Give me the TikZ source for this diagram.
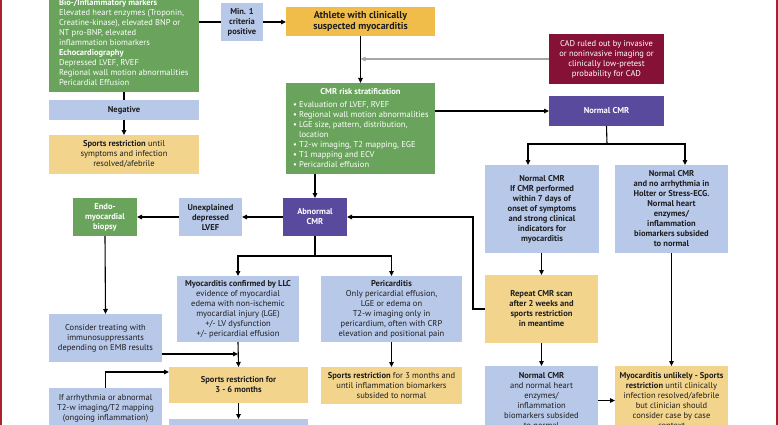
\documentclass[tikz,border=0pt]{standalone}
\usepackage{fontspec}
\setmainfont{PT Sans}
\usetikzlibrary{arrows.meta}
\definecolor{cgreen}{RGB}{106,164,92}
\definecolor{cblue}{RGB}{183,200,233}
\definecolor{corange}{RGB}{242,212,140}
\definecolor{cathl}{RGB}{240,188,74}
\definecolor{cpurple}{RGB}{89,74,158}
\definecolor{cmaroon}{RGB}{134,17,54}
\definecolor{cred}{RGB}{172,32,48}
\definecolor{ctext}{RGB}{30,30,30}
\newcommand\bx[7]{\node[#6, minimum width={#4pt-#2pt}, minimum height={#5pt-#3pt}] (#1) at ({(#2+#4)/2},{(#3+#5)/2}) {#7};}
\begin{document}
\begin{tikzpicture}[x=1pt,y=-1pt,
 base/.style={inner sep=0pt, outer sep=0pt, align=center, font=\fontsize{8.5}{10}\selectfont},
 gbox/.style={base, fill=cgreen, text=white},
 bbox/.style={base, fill=cblue, text=ctext},
 obox/.style={base, fill=corange, text=ctext},
 abox/.style={base, fill=cathl, text=ctext, font=\fontsize{10}{11}\selectfont\bfseries},
 pbox/.style={base, fill=cpurple, text=white, font=\fontsize{8.5}{10}\selectfont\bfseries},
 mbox/.style={base, fill=cmaroon, text=white},
 plain/.style={inner sep=0pt, outer sep=0pt, font=\fontsize{8.5}{10}\selectfont},
 arr/.style={line width=1.1pt, -{Triangle[length=5pt,width=4.5pt]}},
 grayarr/.style={line width=1.1pt, draw=gray!70, -{Triangle[length=5pt,width=4.5pt]}},
 ln/.style={line width=1.1pt},
]
\useasboundingbox (0,0) rectangle (778,425);
\clip (0,0) rectangle (778,425);
\fill[cred] (0,0) rectangle (2.3,425);
\fill[cred] (775.7,0) rectangle (778,425);

% boxes
\bx{bio}{49}{-20}{199}{92}{gbox}{}
\node[plain, text=white, align=left, anchor=north west] (biotext) at (59,-0.5) {\textbf{Bio-/Inflammatory markers}\\
Elevated heart enzymes (Troponin,\\
Creatine-kinase), elevated BNP or\\
NT pro-BNP, elevated\\
inflammation biomarkers\\
\textbf{Echocardiography}\\
Depressed LVEF, RVEF\\
Regional wall motion abnormalities\\
Pericardial Effusion};
\bx{negative}{49}{100}{199}{120}{bbox}{\textbf{Negative}}
\bx{sportsa}{49}{135}{199}{174}{obox}{\textbf{Sports restriction} until\\ symptoms and infection\\ resolved/afebrile}
\bx{minone}{221}{3}{263}{41}{bbox}{\textbf{Min. 1}\\ \textbf{criteria}\\ \textbf{positive}}
\bx{athlete}{286}{7}{435}{36}{abox}{Athlete with clinically\\ suspected myocarditis}
\bx{cad}{549}{34}{664}{84}{mbox}{CAD ruled out by invasive\\ or noninvasive imaging or\\ clinically low-pretest\\ probability for CAD}
\bx{normalcmr}{549}{96}{664}{126}{pbox}{Normal CMR}
\bx{cmrrisk}{286}{83}{435}{174}{gbox}{}
\node[plain, text=white, anchor=base] (cmrtitle) at (360.5,95) {\textbf{CMR risk stratification}};
\node[plain, text=white, align=left, anchor=north west] (cmrlist) at (293,101.5) {• Evaluation of LVEF, RVEF\\
• Regional wall motion abnormalities\\
• LGE size, pattern, distribution,\\
\phantom{• }location\\
• T2-w imaging, T2 mapping, EGE\\
• T1 mapping and ECV\\
• Pericardial effusion};
\bx{abnormal}{283}{198}{347}{236}{pbox}{Abnormal\\ CMR}
\bx{unexpl}{179}{198}{242}{236}{bbox}{\textbf{Unexplained}\\ \textbf{depressed}\\ \textbf{LVEF}}
\bx{endo}{73}{198}{137}{236}{gbox}{\textbf{Endo-}\\ \textbf{myocardial}\\ \textbf{biopsy}}
\bx{consider}{49}{314}{162}{362}{bbox}{Consider treating with\\ immunosuppressants\\ depending on EMB results}
\bx{llc}{177}{276}{299}{342}{bbox}{\textbf{Myocarditis confirmed by LLC}\\ evidence of myocardial\\ edema with non-ischemic\\ myocardial injury (LGE)\\ +/- LV dysfunction\\ +/- pericardial effusion}
\bx{peri}{321}{276}{462}{342}{bbox}{\textbf{Pericarditis}\\ Only pericardial effusion,\\ LGE or edema on\\ T2-w imaging only in\\ pericardium, often with CRP\\ elevation and positional pain}
\bx{sportsb}{169}{367}{308}{403}{obox}{\textbf{Sports restriction for}\\ \textbf{3 - 6 months}}
\bx{sportsc}{321}{367}{462}{404}{obox}{\textbf{Sports restriction} for 3 months and\\ until inflammation biomarkers\\ subsided to normal}
\bx{lowbox}{169}{419}{308}{445}{bbox}{}
\bx{ifarr}{49}{388}{162}{428}{bbox}{If arrhythmia or abnormal\\ T2-w imaging/T2 mapping\\ (ongoing inflammation)}
\bx{ncmra}{485}{165}{599}{253}{bbox}{\textbf{Normal CMR}\\ \textbf{If CMR performed}\\ \textbf{within 7 days of}\\ \textbf{onset of symptoms}\\ \textbf{and strong clinical}\\ \textbf{indicators for}\\ \textbf{myocarditis}}
\bx{ncmrb}{615}{165}{728}{253}{bbox}{\textbf{Normal CMR}\\ \textbf{and no arrhythmia in}\\ \textbf{Holter or Stress-ECG.}\\ \textbf{Normal heart}\\ \textbf{enzymes/}\\ \textbf{inflammation}\\ \textbf{biomarkers subsided}\\ \textbf{to normal}}
\bx{repeat}{485}{275}{598}{343}{obox}{\textbf{Repeat CMR scan}\\ \textbf{after 2 weeks and}\\ \textbf{sports restriction}\\ \textbf{in meantime}}
\bx{ncmrc}{485}{366}{598}{435}{bbox}{\textbf{Normal CMR}\\ and normal heart\\ enzymes/\\ inflammation\\ biomarkers subsided\\ to normal}
\bx{unlikely}{615}{366}{728}{435}{obox}{\textbf{Myocarditis unlikely - Sports}\\ \textbf{restriction} until clinically\\ infection resolved/afebrile\\ but clinician should\\ consider case by case\\ context}

% helper coordinates
\coordinate (cA) at (0,354);
\coordinate (cB) at (0,372);
\coordinate (cC) at (473,0);
\coordinate (jA) at (315,256);
\coordinate (jB) at (607,144);
\coordinate (nA) at (528,144);
\coordinate (nB) at (685,144);
\coordinate (xA) at (124,0);

% connectors
\draw[ln] (bio.east |- minone.west) -- (minone.west);
\draw[arr] (minone.east) -- (athlete.west |- minone.east);
\draw[arr] (athlete.south) -- (cmrrisk.north);
\draw[grayarr] (cad.west) -- (athlete.south |- cad.west);
\draw[arr] (cmrrisk.east |- normalcmr.west) -- (normalcmr.west);
\draw[ln] (xA |- bio.south) -- (xA |- negative.north);
\draw[arr] (xA |- negative.south) -- (xA |- sportsa.north);
\draw[arr] (cmrrisk.south -| abnormal.north) -- (abnormal.north);
\draw[arr] (abnormal.west) -- (unexpl.east);
\draw[arr] (unexpl.west) -- (endo.east);
\draw[arr] (endo.south) -- (consider.north);
\draw[ln] (abnormal.south) -- (jA);
\draw[arr] (jA) -| (llc.north);
\draw[arr] (jA) -| (peri.north);
\draw[arr] (llc.south) -- (sportsb.north);
\draw[arr] (consider.east |- cA) -- (llc.south |- cA);
\draw[arr] (peri.south) -- (sportsc.north);
\draw[arr] (sportsb.south) -- (lowbox.north);
\draw[arr] (ifarr.north) -- (ifarr.north |- cB) -- (sportsb.west |- cB);
\draw[ln] (normalcmr.south) -- (jB);
\draw[arr] (jB) -- (nA) -- (nA |- ncmra.north);
\draw[arr] (jB) -- (nB) -- (nB |- ncmrb.north);
\draw[arr] (ncmra.south -| repeat.north) -- (repeat.north);
\draw[arr] (repeat.west) -- (cC |- repeat.west) -- (cC |- abnormal.east) -- (abnormal.east);
\draw[arr] (ncmrb.south -| unlikely.north) -- (unlikely.north);
\draw[arr] (repeat.south) -- (ncmrc.north);
\draw[arr] (ncmrc.east |- unlikely.west) -- (unlikely.west);
\end{tikzpicture}
\end{document}
